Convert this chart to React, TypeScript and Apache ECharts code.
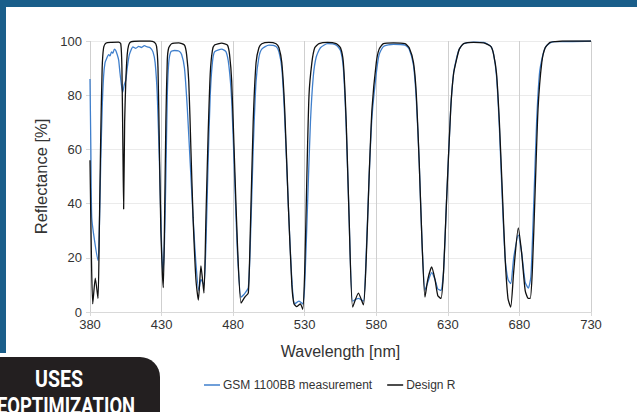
import React, { useEffect, useRef } from "react";
import * as echarts from "echarts";

const xTicks = [380, 430, 480, 530, 580, 630, 680, 730];
const yTicks = [0, 20, 40, 60, 80, 100];

const designWl = [380, 381, 381.9, 383.7, 385.6, 386.5, 387.5, 388.5, 389.5, 391, 395, 400, 401.5, 402.3, 403, 403.5, 404.2, 405, 406, 407, 408.5, 415, 422, 425, 426.5, 427.5, 428.5, 429.5, 430.5, 431.2, 432, 433, 434, 435, 437, 442, 446, 447.5, 449, 450.5, 452, 454, 455.7, 457.5, 459.6, 461, 462.5, 464, 465.5, 467, 472, 476, 477.5, 479, 481, 483, 485.5, 488.3, 490.6, 492, 494, 496, 498, 500, 505, 510, 512, 514, 516, 518.5, 521, 522.5, 524.5, 527, 528.6, 530, 531.5, 533, 535, 537, 540, 546, 552, 555, 557, 559, 561, 563.5, 567.5, 571, 573, 575, 577, 580, 582, 585, 592, 600, 603, 606, 608, 610, 612, 614, 616, 618.7, 621, 623, 625.2, 627, 629, 632, 634, 636, 638, 641, 648, 655, 660, 662, 664, 666, 668, 670, 672, 673.9, 676, 679.2, 681.5, 684, 686.2, 687.5, 689, 691, 693, 695.6, 698, 701.4, 705, 710, 730];
const designR = [56, 20, 3, 12.5, 5, 30, 65, 90, 97.5, 99.2, 99.5, 99.6, 99, 90, 60, 38, 70, 85, 95, 98.5, 99.7, 100, 100, 99.5, 98, 90, 60, 30, 15, 9, 30, 70, 93, 97.5, 99, 99.3, 98.5, 95, 85, 60, 35, 12, 4.4, 17, 7, 35, 65, 88, 96.5, 98.5, 99.2, 98.5, 95, 85, 55, 25, 3.3, 5.6, 7, 30, 70, 92, 97.5, 99, 99.5, 99, 97.5, 92, 75, 40, 10, 3, 2, 3, 1, 15, 50, 80, 92, 97.5, 99, 99.5, 99, 97.5, 92, 70, 35, 1.8, 7, 2.6, 20, 50, 75, 92, 97, 99, 99.3, 99, 97.5, 92, 80, 55, 25, 5.5, 12, 16.6, 12, 6, 5, 15, 40, 75, 88, 93, 97, 99, 99.5, 99.3, 98, 95, 88, 70, 45, 20, 5, 1.8, 15, 31, 22, 8, 5, 5, 15, 45, 75, 92, 97.5, 99.5, 99.8, 100, 100];

const measWl = [380, 380.6, 381.2, 383, 385.6, 386.5, 387.5, 388.5, 389.5, 390.5, 391.6, 393, 394, 395, 396, 397, 398, 399, 400, 401, 402.8, 404, 405, 406, 407.5, 410, 412, 414, 416, 418, 420, 422, 424, 425.5, 427, 428.5, 430, 430.8, 432, 433, 434, 435, 436.5, 439, 442, 444, 446, 448, 450, 452, 454, 456, 457.5, 459.6, 461, 462.5, 464, 465.5, 467, 472, 475, 477, 479, 481, 483, 485.5, 488.3, 490.6, 492, 494, 496, 498, 500, 505, 510, 512, 514, 516, 518.5, 521, 523, 526, 528.6, 530, 532, 534, 536, 538, 541, 546, 552, 555, 557, 559, 561, 563.5, 567.5, 571, 573, 575, 577, 580, 582, 585, 592, 600, 603, 606, 608, 610, 612, 614, 616, 618.7, 621, 623, 625.2, 627, 629, 632, 634, 636, 638, 641, 648, 655, 660, 662, 664, 666, 668, 670, 672, 673.9, 676, 679.2, 681.5, 684, 686.2, 688, 690, 692, 694, 696, 698, 701.4, 705, 710, 730];
const measR = [86, 60, 35, 27, 19, 30, 55, 75, 87, 92, 93.5, 95, 94.5, 96, 95.5, 97, 96.5, 95, 93, 88, 81, 84, 85.5, 90, 95, 97.8, 97.3, 98, 97.6, 98.3, 97.8, 97.5, 96, 92, 80, 55, 25, 14.5, 25, 50, 80, 92, 96, 96.5, 96.3, 95, 90, 75, 55, 35, 18, 8, 12, 10, 25, 55, 80, 92, 96, 97, 96, 91, 78, 50, 22, 5.5, 7, 9, 25, 60, 85, 94, 97, 98.5, 98, 96, 90, 72, 40, 12, 3, 4, 3, 10, 40, 70, 87, 94, 97.5, 99, 98.5, 96.5, 90, 68, 35, 4, 5, 4, 22, 50, 72, 88, 95, 98, 98.8, 98.5, 97, 91, 78, 55, 25, 8, 11, 14.5, 12, 8.5, 8, 15, 40, 75, 88, 93.5, 97, 99, 99.6, 99.5, 98, 95, 87, 68, 42, 20, 12, 10.5, 20, 28.4, 22, 11, 8.8, 13, 40, 70, 88, 94, 97.5, 99.3, 99.8, 99.8, 100];

const seriesNames = ["GSM 1100BB measurement", "Design R"];

export default function App() {
  const ref = useRef<HTMLDivElement>(null);
  useEffect(() => {
    if (!ref.current) return;
    const chart = echarts.init(ref.current, null, { renderer: "svg" });
    const font = "Helvetica, Arial, 'Liberation Sans', sans-serif";
    chart.setOption({
      animation: false,
      backgroundColor: "#ffffff",
      grid: { left: 90, right: 46, top: 41, bottom: 100 },
      legend: {
        data: seriesNames,
        left: 199,
        top: 374,
        icon: "rect",
        itemWidth: 16,
        itemHeight: 1.5,
        itemGap: 15,
        textStyle: { fontFamily: font, fontSize: 12, color: "#333", padding: [0, 0, 0, -2] },
      },
      xAxis: {
        type: "value",
        min: 380,
        max: 730,
        interval: 50,
        name: "Wavelength [nm]",
        nameLocation: "middle",
        nameGap: 31,
        nameTextStyle: { fontFamily: font, fontSize: 16, color: "#333" },
        axisLine: { show: true, lineStyle: { color: "#d9d9d9" } },
        axisTick: { show: true, length: 4, lineStyle: { color: "#d9d9d9" } },
        axisLabel: { fontFamily: font, fontSize: 13, color: "#333", margin: 6 },
        splitLine: { show: true, lineStyle: { color: "#cfcfcf", width: 1 } },
      },
      yAxis: {
        type: "value",
        min: 0,
        max: 100,
        interval: 20,
        name: "Reflectance [%]",
        nameLocation: "middle",
        nameGap: 37,
        nameTextStyle: { fontFamily: font, fontSize: 16.5, color: "#333" },
        axisLine: { show: false },
        axisTick: { show: true, length: 4, lineStyle: { color: "#d9d9d9" } },
        axisLabel: { fontFamily: font, fontSize: 13, color: "#333", margin: 8 },
        splitLine: { show: true, lineStyle: { color: "#ebebeb", width: 1 } },
      },
      series: [
        {
          name: seriesNames[0],
          type: "line",
          data: measWl.map((w, i) => [w, measR[i]]),
          showSymbol: false,
          smooth: 0.2,
          lineStyle: { color: "#3f7fcc", width: 1.3 },
          itemStyle: { color: "#3f7fcc" },
        },
        {
          name: seriesNames[1],
          type: "line",
          data: designWl.map((w, i) => [w, designR[i]]),
          showSymbol: false,
          smooth: 0.2,
          lineStyle: { color: "#111111", width: 1.3 },
          itemStyle: { color: "#111111" },
        },
      ],
      graphic: [
        { type: "rect", left: 0, top: 0, shape: { width: 637, height: 7 }, style: { fill: "#1a5e8a" }, z: 100 },
        { type: "rect", left: 0, top: 0, shape: { width: 6, height: 353 }, style: { fill: "#1a5e8a" }, z: 100 },
        {
          type: "rect",
          left: 0,
          top: 357,
          shape: { width: 160, height: 60, r: [0, 20, 0, 0] },
          style: { fill: "#231f20" },
          z: 100,
        },
        {
          type: "text",
          x: 59,
          y: 367,
          scaleX: 0.85,
          style: {
            text: "USES",
            fill: "#ffffff",
            font: "bold 23px Roboto, sans-serif",
            align: "center",
            verticalAlign: "top",
          },
          z: 101,
        },
        {
          type: "text",
          x: 66,
          y: 395,
          scaleX: 0.8,
          style: {
            text: "EOPTIMIZATION",
            fill: "#ffffff",
            font: "bold 23px Roboto, sans-serif",
            align: "center",
            verticalAlign: "top",
          },
          z: 101,
        },
      ],
    });
    return () => chart.dispose();
  }, []);
  return (
    <div style={{ position: "fixed", left: 0, top: 0, width: 637, height: 412 }}>
      <div ref={ref} style={{ width: 637, height: 412 }} />
    </div>
  );
}
